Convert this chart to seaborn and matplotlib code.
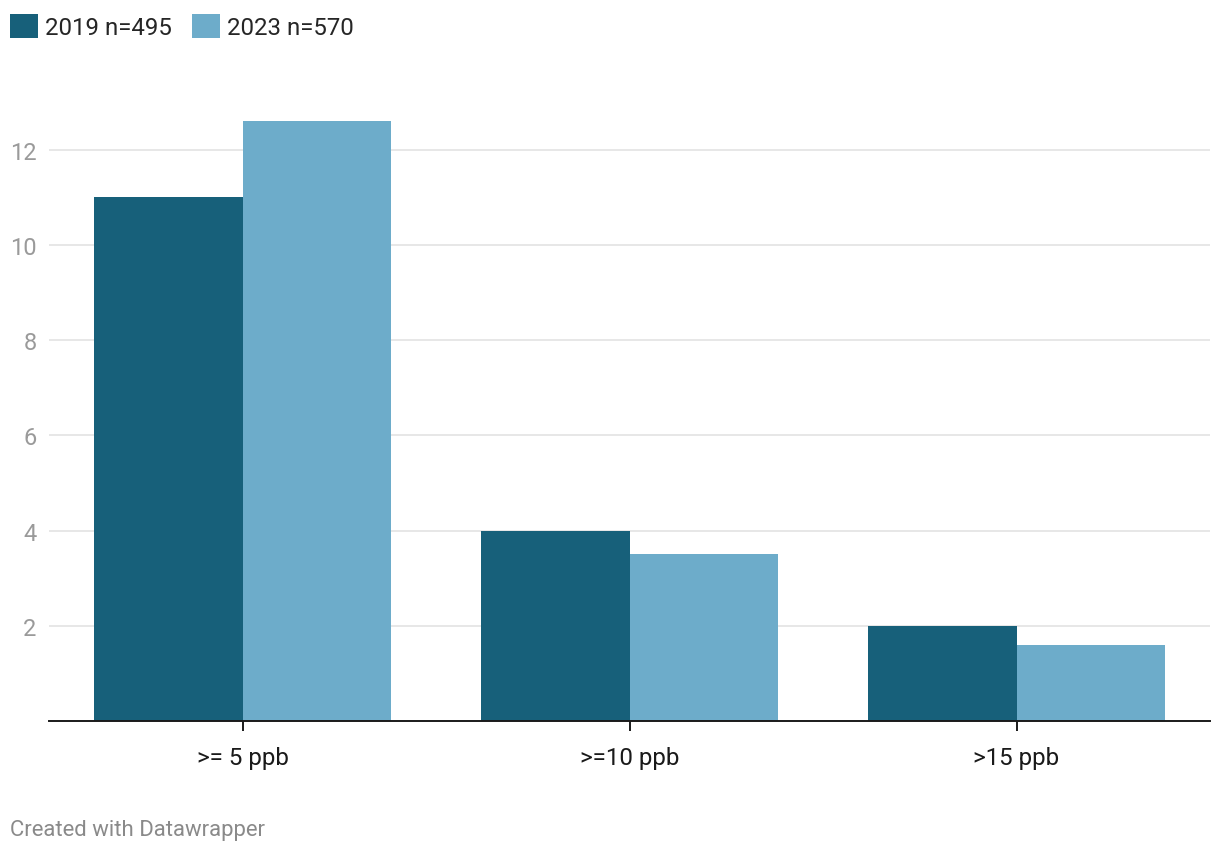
import matplotlib
matplotlib.use("Agg")
import matplotlib.pyplot as plt
import seaborn as sns
import pandas as pd

categories = [">= 5 ppb", ">=10 ppb", ">15 ppb"]
series_names = ["2019 n=495", "2023 n=570"]
values_2019 = [11.0, 4.0, 2.0]
values_2023 = [12.6, 3.5, 1.6]
y_ticks = [2, 4, 6, 8, 10, 12]
colors = ["#17607a", "#6dacca"]

df = pd.DataFrame({
    "category": categories * 2,
    "series": [series_names[0]] * 3 + [series_names[1]] * 3,
    "value": values_2019 + values_2023,
})

sns.set_theme(style="white")
plt.rcParams["font.family"] = ["Roboto", "DejaVu Sans"]

fig = plt.figure(figsize=(12.2, 8.54), dpi=100)
ax = fig.add_axes([49 / 1220, 1 - 722 / 854, (1210 - 49) / 1220, (722 - 103.2) / 854])

sns.barplot(data=df, x="category", y="value", hue="series", order=categories,
            hue_order=series_names, palette=colors, width=0.765, gap=0,
            saturation=1, ax=ax, legend=True, linewidth=0)

ax.set_xlim(-0.5, 2.5)
ax.set_ylim(0, 13)
ax.set_yticks(y_ticks)
ax.set_yticklabels([str(t) for t in y_ticks])
ax.grid(axis="y", color="#e3e3e3", linewidth=1.2)
ax.set_axisbelow(True)
for s in ["top", "right", "left"]:
    ax.spines[s].set_visible(False)
ax.spines["bottom"].set_color("#1a1a1a")
ax.spines["bottom"].set_linewidth(1.4)
ax.tick_params(axis="y", length=0, pad=9, labelsize=17, labelcolor="#9a9a9a")
ax.tick_params(axis="x", length=7, width=1.4, color="#1a1a1a", pad=11,
               labelsize=17.4, labelcolor="#1a1a1a", bottom=True)
ax.set_xlabel("")
ax.set_ylabel("")

handles, labels = ax.get_legend_handles_labels()
ax.get_legend().remove()
fig.legend(handles, labels, loc="upper left", bbox_to_anchor=(10 / 1220, 1 - 15 / 854),
           ncol=2, frameon=False, fontsize=17.3, handlelength=1.15, handleheight=1.15,
           handletextpad=0.3, columnspacing=0.85, borderaxespad=0, borderpad=0)

fig.text(10 / 1220, 1 - 836 / 854, "Created with Datawrapper", fontsize=15.9,
         color="#8a8a8a", va="baseline", ha="left")

fig.savefig("out.png", dpi=100, facecolor="white")
